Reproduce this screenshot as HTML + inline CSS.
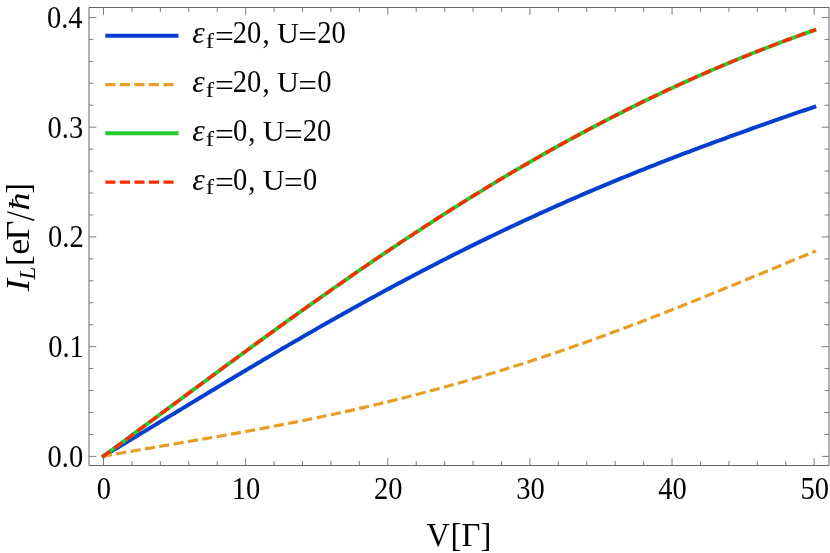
<!DOCTYPE html>
<html><head><meta charset="utf-8"><title>plot</title>
<style>
html,body{margin:0;padding:0;background:#fff;}
svg{display:block;will-change:transform;font-family:"Liberation Serif",serif;font-kerning:none;}
</style></head><body>
<svg width="830" height="553" viewBox="0 0 830 553">
<rect width="830" height="553" fill="#fff"/>
<g fill="none" stroke-linecap="butt" stroke-linejoin="round">
<path d="M101.96,457.03 L103.50,456.10 L107.07,453.96 L110.65,451.81 L114.22,449.66 L117.79,447.51 L121.36,445.36 L124.94,443.20 L128.51,441.05 L132.08,438.89 L135.66,436.73 L139.23,434.57 L142.80,432.41 L146.37,430.24 L149.95,428.08 L153.52,425.91 L157.09,423.75 L160.67,421.58 L164.24,419.42 L167.81,417.25 L171.38,415.09 L174.96,412.92 L178.53,410.76 L182.10,408.59 L185.68,406.43 L189.25,404.27 L192.82,402.11 L196.39,399.95 L199.97,397.79 L203.54,395.63 L207.11,393.48 L210.69,391.32 L214.26,389.17 L217.83,387.02 L221.40,384.87 L224.98,382.73 L228.55,380.58 L232.12,378.44 L235.70,376.31 L239.27,374.17 L242.84,372.04 L246.41,369.91 L249.99,367.78 L253.56,365.66 L257.13,363.54 L260.71,361.42 L264.28,359.31 L267.85,357.20 L271.42,355.10 L275.00,353.00 L278.57,350.90 L282.14,348.81 L285.72,346.72 L289.29,344.63 L292.86,342.55 L296.43,340.48 L300.01,338.41 L303.58,336.34 L307.15,334.28 L310.73,332.22 L314.30,330.17 L317.87,328.12 L321.44,326.08 L325.02,324.05 L328.59,322.02 L332.16,319.99 L335.74,317.97 L339.31,315.96 L342.88,313.95 L346.45,311.95 L350.03,309.95 L353.60,307.96 L357.17,305.97 L360.75,303.99 L364.32,302.02 L367.89,300.05 L371.46,298.09 L375.04,296.13 L378.61,294.19 L382.18,292.24 L385.76,290.31 L389.33,288.38 L392.90,286.46 L396.47,284.54 L400.05,282.63 L403.62,280.73 L407.19,278.83 L410.77,276.94 L414.34,275.06 L417.91,273.18 L421.48,271.31 L425.06,269.45 L428.63,267.60 L432.20,265.75 L435.78,263.91 L439.35,262.08 L442.92,260.25 L446.49,258.43 L450.07,256.62 L453.64,254.81 L457.21,253.01 L460.79,251.22 L464.36,249.44 L467.93,247.66 L471.51,245.89 L475.08,244.13 L478.65,242.38 L482.22,240.63 L485.80,238.89 L489.37,237.16 L492.94,235.44 L496.52,233.72 L500.09,232.01 L503.66,230.31 L507.23,228.61 L510.81,226.92 L514.38,225.24 L517.95,223.57 L521.53,221.90 L525.10,220.25 L528.67,218.59 L532.24,216.95 L535.82,215.32 L539.39,213.69 L542.96,212.06 L546.54,210.45 L550.11,208.84 L553.68,207.24 L557.25,205.65 L560.83,204.07 L564.40,202.49 L567.97,200.92 L571.55,199.35 L575.12,197.80 L578.69,196.25 L582.26,194.71 L585.84,193.17 L589.41,191.64 L592.98,190.12 L596.56,188.61 L600.13,187.10 L603.70,185.60 L607.27,184.11 L610.85,182.62 L614.42,181.14 L617.99,179.67 L621.57,178.20 L625.14,176.74 L628.71,175.28 L632.28,173.84 L635.86,172.40 L639.43,170.96 L643.00,169.53 L646.58,168.11 L650.15,166.69 L653.72,165.28 L657.29,163.88 L660.87,162.48 L664.44,161.09 L668.01,159.70 L671.59,158.32 L675.16,156.95 L678.73,155.58 L682.30,154.22 L685.88,152.86 L689.45,151.51 L693.02,150.16 L696.60,148.82 L700.17,147.48 L703.74,146.15 L707.31,144.82 L710.89,143.50 L714.46,142.18 L718.03,140.87 L721.61,139.56 L725.18,138.26 L728.75,136.96 L732.32,135.66 L735.90,134.37 L739.47,133.08 L743.04,131.80 L746.62,130.52 L750.19,129.25 L753.76,127.98 L757.33,126.71 L760.91,125.44 L764.48,124.18 L768.05,122.93 L771.63,121.67 L775.20,120.42 L778.77,119.17 L782.34,117.92 L785.92,116.68 L789.49,115.44 L793.06,114.20 L796.64,112.96 L800.21,111.73 L803.78,110.50 L807.35,109.27 L810.93,108.04 L814.50,106.81 L816.20,106.23" stroke="#063fd0" stroke-width="4.0"/>
<path d="M101.92,456.38 L103.50,456.10 L107.07,455.47 L110.65,454.84 L114.22,454.22 L117.79,453.60 L121.36,452.98 L124.94,452.36 L128.51,451.74 L132.08,451.13 L135.66,450.52 L139.23,449.91 L142.80,449.30 L146.37,448.69 L149.95,448.08 L153.52,447.48 L157.09,446.87 L160.67,446.26 L164.24,445.66 L167.81,445.05 L171.38,444.45 L174.96,443.84 L178.53,443.23 L182.10,442.62 L185.68,442.01 L189.25,441.40 L192.82,440.79 L196.39,440.18 L199.97,439.57 L203.54,438.95 L207.11,438.33 L210.69,437.71 L214.26,437.09 L217.83,436.47 L221.40,435.84 L224.98,435.21 L228.55,434.58 L232.12,433.94 L235.70,433.31 L239.27,432.66 L242.84,432.02 L246.41,431.37 L249.99,430.72 L253.56,430.06 L257.13,429.41 L260.71,428.74 L264.28,428.08 L267.85,427.40 L271.42,426.73 L275.00,426.05 L278.57,425.37 L282.14,424.68 L285.72,423.98 L289.29,423.28 L292.86,422.58 L296.43,421.87 L300.01,421.16 L303.58,420.44 L307.15,419.72 L310.73,418.99 L314.30,418.25 L317.87,417.51 L321.44,416.76 L325.02,416.01 L328.59,415.25 L332.16,414.49 L335.74,413.72 L339.31,412.94 L342.88,412.16 L346.45,411.37 L350.03,410.57 L353.60,409.77 L357.17,408.96 L360.75,408.15 L364.32,407.33 L367.89,406.50 L371.46,405.67 L375.04,404.82 L378.61,403.98 L382.18,403.12 L385.76,402.26 L389.33,401.39 L392.90,400.51 L396.47,399.63 L400.05,398.74 L403.62,397.84 L407.19,396.94 L410.77,396.02 L414.34,395.10 L417.91,394.18 L421.48,393.24 L425.06,392.30 L428.63,391.35 L432.20,390.40 L435.78,389.43 L439.35,388.46 L442.92,387.48 L446.49,386.50 L450.07,385.50 L453.64,384.50 L457.21,383.49 L460.79,382.47 L464.36,381.45 L467.93,380.42 L471.51,379.38 L475.08,378.33 L478.65,377.28 L482.22,376.22 L485.80,375.15 L489.37,374.07 L492.94,372.98 L496.52,371.89 L500.09,370.79 L503.66,369.68 L507.23,368.57 L510.81,367.45 L514.38,366.32 L517.95,365.18 L521.53,364.03 L525.10,362.88 L528.67,361.72 L532.24,360.55 L535.82,359.38 L539.39,358.20 L542.96,357.01 L546.54,355.81 L550.11,354.61 L553.68,353.40 L557.25,352.18 L560.83,350.96 L564.40,349.73 L567.97,348.49 L571.55,347.25 L575.12,345.99 L578.69,344.74 L582.26,343.47 L585.84,342.20 L589.41,340.92 L592.98,339.64 L596.56,338.35 L600.13,337.05 L603.70,335.75 L607.27,334.44 L610.85,333.12 L614.42,331.80 L617.99,330.47 L621.57,329.14 L625.14,327.80 L628.71,326.45 L632.28,325.10 L635.86,323.74 L639.43,322.38 L643.00,321.01 L646.58,319.64 L650.15,318.27 L653.72,316.88 L657.29,315.50 L660.87,314.10 L664.44,312.71 L668.01,311.30 L671.59,309.90 L675.16,308.49 L678.73,307.07 L682.30,305.65 L685.88,304.23 L689.45,302.80 L693.02,301.37 L696.60,299.94 L700.17,298.50 L703.74,297.06 L707.31,295.62 L710.89,294.17 L714.46,292.72 L718.03,291.26 L721.61,289.81 L725.18,288.35 L728.75,286.89 L732.32,285.42 L735.90,283.96 L739.47,282.49 L743.04,281.02 L746.62,279.55 L750.19,278.08 L753.76,276.60 L757.33,275.13 L760.91,273.65 L764.48,272.17 L768.05,270.70 L771.63,269.22 L775.20,267.74 L778.77,266.26 L782.34,264.78 L785.92,263.30 L789.49,261.82 L793.06,260.34 L796.64,258.87 L800.21,257.39 L803.78,255.91 L807.35,254.44 L810.93,252.97 L814.50,251.49 L815.98,250.89" stroke="#e69e26" stroke-width="3.2" stroke-dasharray="10.14 4.403"/>
<path d="M102.05,457.16 L103.50,456.10 L107.07,453.48 L110.65,450.86 L114.22,448.23 L117.79,445.60 L121.36,442.97 L124.94,440.34 L128.51,437.71 L132.08,435.07 L135.66,432.43 L139.23,429.79 L142.80,427.15 L146.37,424.51 L149.95,421.87 L153.52,419.23 L157.09,416.59 L160.67,413.94 L164.24,411.30 L167.81,408.65 L171.38,406.01 L174.96,403.37 L178.53,400.72 L182.10,398.08 L185.68,395.44 L189.25,392.80 L192.82,390.16 L196.39,387.52 L199.97,384.88 L203.54,382.24 L207.11,379.60 L210.69,376.97 L214.26,374.34 L217.83,371.71 L221.40,369.08 L224.98,366.45 L228.55,363.83 L232.12,361.21 L235.70,358.59 L239.27,355.97 L242.84,353.36 L246.41,350.75 L249.99,348.14 L253.56,345.53 L257.13,342.93 L260.71,340.33 L264.28,337.74 L267.85,335.15 L271.42,332.56 L275.00,329.98 L278.57,327.40 L282.14,324.82 L285.72,322.25 L289.29,319.69 L292.86,317.13 L296.43,314.57 L300.01,312.02 L303.58,309.47 L307.15,306.93 L310.73,304.39 L314.30,301.86 L317.87,299.33 L321.44,296.81 L325.02,294.29 L328.59,291.78 L332.16,289.27 L335.74,286.77 L339.31,284.28 L342.88,281.79 L346.45,279.31 L350.03,276.84 L353.60,274.37 L357.17,271.90 L360.75,269.45 L364.32,267.00 L367.89,264.55 L371.46,262.12 L375.04,259.69 L378.61,257.26 L382.18,254.85 L385.76,252.44 L389.33,250.04 L392.90,247.64 L396.47,245.26 L400.05,242.88 L403.62,240.50 L407.19,238.14 L410.77,235.78 L414.34,233.43 L417.91,231.09 L421.48,228.76 L425.06,226.43 L428.63,224.11 L432.20,221.80 L435.78,219.50 L439.35,217.21 L442.92,214.92 L446.49,212.64 L450.07,210.38 L453.64,208.12 L457.21,205.86 L460.79,203.62 L464.36,201.39 L467.93,199.16 L471.51,196.94 L475.08,194.74 L478.65,192.54 L482.22,190.35 L485.80,188.17 L489.37,185.99 L492.94,183.83 L496.52,181.68 L500.09,179.53 L503.66,177.40 L507.23,175.27 L510.81,173.16 L514.38,171.05 L517.95,168.95 L521.53,166.86 L525.10,164.78 L528.67,162.72 L532.24,160.66 L535.82,158.61 L539.39,156.57 L542.96,154.54 L546.54,152.52 L550.11,150.51 L553.68,148.51 L557.25,146.51 L560.83,144.53 L564.40,142.56 L567.97,140.60 L571.55,138.65 L575.12,136.71 L578.69,134.78 L582.26,132.86 L585.84,130.95 L589.41,129.05 L592.98,127.16 L596.56,125.28 L600.13,123.41 L603.70,121.55 L607.27,119.70 L610.85,117.86 L614.42,116.03 L617.99,114.21 L621.57,112.41 L625.14,110.61 L628.71,108.82 L632.28,107.04 L635.86,105.28 L639.43,103.52 L643.00,101.77 L646.58,100.04 L650.15,98.31 L653.72,96.60 L657.29,94.90 L660.87,93.20 L664.44,91.52 L668.01,89.85 L671.59,88.18 L675.16,86.53 L678.73,84.89 L682.30,83.26 L685.88,81.64 L689.45,80.03 L693.02,78.43 L696.60,76.84 L700.17,75.26 L703.74,73.69 L707.31,72.13 L710.89,70.58 L714.46,69.04 L718.03,67.52 L721.61,66.00 L725.18,64.49 L728.75,62.99 L732.32,61.51 L735.90,60.03 L739.47,58.57 L743.04,57.11 L746.62,55.66 L750.19,54.23 L753.76,52.80 L757.33,51.39 L760.91,49.98 L764.48,48.59 L768.05,47.20 L771.63,45.83 L775.20,44.46 L778.77,43.11 L782.34,41.76 L785.92,40.42 L789.49,39.10 L793.06,37.78 L796.64,36.47 L800.21,35.18 L803.78,33.89 L807.35,32.61 L810.93,31.34 L814.50,30.09 L816.20,29.49" stroke="#26cd2e" stroke-width="3.9"/>
<path d="M102.21,457.05 L103.50,456.10 L107.07,453.48 L110.65,450.86 L114.22,448.23 L117.79,445.60 L121.36,442.97 L124.94,440.34 L128.51,437.71 L132.08,435.07 L135.66,432.43 L139.23,429.79 L142.80,427.15 L146.37,424.51 L149.95,421.87 L153.52,419.23 L157.09,416.59 L160.67,413.94 L164.24,411.30 L167.81,408.65 L171.38,406.01 L174.96,403.37 L178.53,400.72 L182.10,398.08 L185.68,395.44 L189.25,392.80 L192.82,390.16 L196.39,387.52 L199.97,384.88 L203.54,382.24 L207.11,379.60 L210.69,376.97 L214.26,374.34 L217.83,371.71 L221.40,369.08 L224.98,366.45 L228.55,363.83 L232.12,361.21 L235.70,358.59 L239.27,355.97 L242.84,353.36 L246.41,350.75 L249.99,348.14 L253.56,345.53 L257.13,342.93 L260.71,340.33 L264.28,337.74 L267.85,335.15 L271.42,332.56 L275.00,329.98 L278.57,327.40 L282.14,324.82 L285.72,322.25 L289.29,319.69 L292.86,317.13 L296.43,314.57 L300.01,312.02 L303.58,309.47 L307.15,306.93 L310.73,304.39 L314.30,301.86 L317.87,299.33 L321.44,296.81 L325.02,294.29 L328.59,291.78 L332.16,289.27 L335.74,286.77 L339.31,284.28 L342.88,281.79 L346.45,279.31 L350.03,276.84 L353.60,274.37 L357.17,271.90 L360.75,269.45 L364.32,267.00 L367.89,264.55 L371.46,262.12 L375.04,259.69 L378.61,257.26 L382.18,254.85 L385.76,252.44 L389.33,250.04 L392.90,247.64 L396.47,245.26 L400.05,242.88 L403.62,240.50 L407.19,238.14 L410.77,235.78 L414.34,233.43 L417.91,231.09 L421.48,228.76 L425.06,226.43 L428.63,224.11 L432.20,221.80 L435.78,219.50 L439.35,217.21 L442.92,214.92 L446.49,212.64 L450.07,210.38 L453.64,208.12 L457.21,205.86 L460.79,203.62 L464.36,201.39 L467.93,199.16 L471.51,196.94 L475.08,194.74 L478.65,192.54 L482.22,190.35 L485.80,188.17 L489.37,185.99 L492.94,183.83 L496.52,181.68 L500.09,179.53 L503.66,177.40 L507.23,175.27 L510.81,173.16 L514.38,171.05 L517.95,168.95 L521.53,166.86 L525.10,164.78 L528.67,162.72 L532.24,160.66 L535.82,158.61 L539.39,156.57 L542.96,154.54 L546.54,152.52 L550.11,150.51 L553.68,148.51 L557.25,146.51 L560.83,144.53 L564.40,142.56 L567.97,140.60 L571.55,138.65 L575.12,136.71 L578.69,134.78 L582.26,132.86 L585.84,130.95 L589.41,129.05 L592.98,127.16 L596.56,125.28 L600.13,123.41 L603.70,121.55 L607.27,119.70 L610.85,117.86 L614.42,116.03 L617.99,114.21 L621.57,112.41 L625.14,110.61 L628.71,108.82 L632.28,107.04 L635.86,105.28 L639.43,103.52 L643.00,101.77 L646.58,100.04 L650.15,98.31 L653.72,96.60 L657.29,94.90 L660.87,93.20 L664.44,91.52 L668.01,89.85 L671.59,88.18 L675.16,86.53 L678.73,84.89 L682.30,83.26 L685.88,81.64 L689.45,80.03 L693.02,78.43 L696.60,76.84 L700.17,75.26 L703.74,73.69 L707.31,72.13 L710.89,70.58 L714.46,69.04 L718.03,67.52 L721.61,66.00 L725.18,64.49 L728.75,62.99 L732.32,61.51 L735.90,60.03 L739.47,58.57 L743.04,57.11 L746.62,55.66 L750.19,54.23 L753.76,52.80 L757.33,51.39 L760.91,49.98 L764.48,48.59 L768.05,47.20 L771.63,45.83 L775.20,44.46 L778.77,43.11 L782.34,41.76 L785.92,40.42 L789.49,39.10 L793.06,37.78 L796.64,36.47 L800.21,35.18 L803.78,33.89 L807.35,32.61 L810.93,31.34 L814.50,30.09 L816.01,29.55" stroke="#fb2c04" stroke-width="3.3" stroke-dasharray="10.14 4.403"/>
</g>
<path d="M89.0,7.5H829.0V465.5H89.0Z" fill="none" stroke="#666" stroke-width="1"/>
<g stroke="#666" stroke-width="0.85" fill="none"><path d="M103.50,465.5v-7.3M103.50,7.5v7.3"/><path d="M131.93,465.5v-4.4M131.93,7.5v4.4"/><path d="M160.36,465.5v-4.4M160.36,7.5v4.4"/><path d="M188.78,465.5v-4.4M188.78,7.5v4.4"/><path d="M217.21,465.5v-4.4M217.21,7.5v4.4"/><path d="M245.64,465.5v-7.3M245.64,7.5v7.3"/><path d="M274.07,465.5v-4.4M274.07,7.5v4.4"/><path d="M302.50,465.5v-4.4M302.50,7.5v4.4"/><path d="M330.92,465.5v-4.4M330.92,7.5v4.4"/><path d="M359.35,465.5v-4.4M359.35,7.5v4.4"/><path d="M387.78,465.5v-7.3M387.78,7.5v7.3"/><path d="M416.21,465.5v-4.4M416.21,7.5v4.4"/><path d="M444.64,465.5v-4.4M444.64,7.5v4.4"/><path d="M473.06,465.5v-4.4M473.06,7.5v4.4"/><path d="M501.49,465.5v-4.4M501.49,7.5v4.4"/><path d="M529.92,465.5v-7.3M529.92,7.5v7.3"/><path d="M558.35,465.5v-4.4M558.35,7.5v4.4"/><path d="M586.78,465.5v-4.4M586.78,7.5v4.4"/><path d="M615.20,465.5v-4.4M615.20,7.5v4.4"/><path d="M643.63,465.5v-4.4M643.63,7.5v4.4"/><path d="M672.06,465.5v-7.3M672.06,7.5v7.3"/><path d="M700.49,465.5v-4.4M700.49,7.5v4.4"/><path d="M728.92,465.5v-4.4M728.92,7.5v4.4"/><path d="M757.34,465.5v-4.4M757.34,7.5v4.4"/><path d="M785.77,465.5v-4.4M785.77,7.5v4.4"/><path d="M814.20,465.5v-7.3M814.20,7.5v7.3"/><path d="M89.0,456.40h7.3M829.0,456.40h-7.3"/><path d="M89.0,434.45h4.4M829.0,434.45h-4.4"/><path d="M89.0,412.50h4.4M829.0,412.50h-4.4"/><path d="M89.0,390.56h4.4M829.0,390.56h-4.4"/><path d="M89.0,368.61h4.4M829.0,368.61h-4.4"/><path d="M89.0,346.66h7.3M829.0,346.66h-7.3"/><path d="M89.0,324.71h4.4M829.0,324.71h-4.4"/><path d="M89.0,302.76h4.4M829.0,302.76h-4.4"/><path d="M89.0,280.82h4.4M829.0,280.82h-4.4"/><path d="M89.0,258.87h4.4M829.0,258.87h-4.4"/><path d="M89.0,236.92h7.3M829.0,236.92h-7.3"/><path d="M89.0,214.97h4.4M829.0,214.97h-4.4"/><path d="M89.0,193.02h4.4M829.0,193.02h-4.4"/><path d="M89.0,171.08h4.4M829.0,171.08h-4.4"/><path d="M89.0,149.13h4.4M829.0,149.13h-4.4"/><path d="M89.0,127.18h7.3M829.0,127.18h-7.3"/><path d="M89.0,105.23h4.4M829.0,105.23h-4.4"/><path d="M89.0,83.28h4.4M829.0,83.28h-4.4"/><path d="M89.0,61.34h4.4M829.0,61.34h-4.4"/><path d="M89.0,39.39h4.4M829.0,39.39h-4.4"/><path d="M89.0,17.44h7.3M829.0,17.44h-7.3"/></g>
<g><text transform="translate(96.67,499.2) scale(0.92,1)" font-size="31.0">0</text><text transform="translate(231.74,499.2) scale(0.92,1)" font-size="31.0">10</text><text transform="translate(373.94,499.2) scale(0.92,1)" font-size="31.0">20</text><text transform="translate(516.14,499.2) scale(0.92,1)" font-size="31.0">30</text><text transform="translate(658.34,499.2) scale(0.92,1)" font-size="31.0">40</text><text transform="translate(800.54,499.2) scale(0.92,1)" font-size="31.0">50</text><text transform="translate(47.54,466.70) scale(0.9200,1.0000)" font-size="31.0" fill="#000">0.0</text><text transform="translate(48.16,357.01) scale(0.9200,1.0000)" font-size="31.0" fill="#000">0.1</text><text transform="translate(48.02,247.32) scale(0.9200,1.0000)" font-size="31.0" fill="#000">0.2</text><text transform="translate(47.56,137.63) scale(0.9200,1.0000)" font-size="31.0" fill="#000">0.3</text><text transform="translate(46.90,27.94) scale(0.9200,1.0000)" font-size="31.0" fill="#000">0.4</text></g>
<g><path d="M105.3,35.7H178.5" stroke="#063fd0" stroke-width="4.0" fill="none"/><text transform="translate(192.22,43.10) scale(1.0244,1.0000)" font-size="31.0" font-style="italic" fill="#000">ε</text><text transform="translate(205.74,47.90) scale(1.1500,1.0000)" font-size="21.5" fill="#000">f</text><text transform="translate(214.93,46.90) scale(1.0814,1.0000)" font-size="31.0" fill="#000">=</text><text transform="translate(232.80,43.10) scale(0.9200,1.0000)" font-size="31.0" fill="#000">20</text><text transform="translate(262.61,43.10) scale(0.9200,1.0000)" font-size="31.0" fill="#000">,</text><text transform="translate(276.96,43.10) scale(1.0516,1.0000)" font-size="28.8" fill="#000">U</text><text transform="translate(298.25,46.90) scale(1.0676,1.0000)" font-size="31.0" fill="#000">=</text><text transform="translate(317.15,43.10) scale(0.9200,1.0000)" font-size="31.0" fill="#000">20</text><path d="M105.3,84.55H178.0" stroke="#e69e26" stroke-width="3.2" fill="none" stroke-dasharray="10.14 4.403"/><text transform="translate(192.22,91.95) scale(1.0244,1.0000)" font-size="31.0" font-style="italic" fill="#000">ε</text><text transform="translate(205.74,96.75) scale(1.1500,1.0000)" font-size="21.5" fill="#000">f</text><text transform="translate(214.93,95.75) scale(1.0814,1.0000)" font-size="31.0" fill="#000">=</text><text transform="translate(232.80,91.95) scale(0.9200,1.0000)" font-size="31.0" fill="#000">20</text><text transform="translate(262.61,91.95) scale(0.9200,1.0000)" font-size="31.0" fill="#000">,</text><text transform="translate(276.96,91.95) scale(1.0516,1.0000)" font-size="28.8" fill="#000">U</text><text transform="translate(298.25,95.75) scale(1.0676,1.0000)" font-size="31.0" fill="#000">=</text><text transform="translate(317.31,91.95) scale(0.9200,1.0000)" font-size="31.0" fill="#000">0</text><path d="M105.3,133.3H178.5" stroke="#26cd2e" stroke-width="4.0" fill="none"/><text transform="translate(192.22,140.70) scale(1.0244,1.0000)" font-size="31.0" font-style="italic" fill="#000">ε</text><text transform="translate(205.74,145.50) scale(1.1500,1.0000)" font-size="21.5" fill="#000">f</text><text transform="translate(214.93,144.50) scale(1.0814,1.0000)" font-size="31.0" fill="#000">=</text><text transform="translate(232.96,140.70) scale(0.9200,1.0000)" font-size="31.0" fill="#000">0</text><text transform="translate(248.31,140.70) scale(0.9200,1.0000)" font-size="31.0" fill="#000">,</text><text transform="translate(262.66,140.70) scale(1.0516,1.0000)" font-size="28.8" fill="#000">U</text><text transform="translate(283.95,144.50) scale(1.0676,1.0000)" font-size="31.0" fill="#000">=</text><text transform="translate(302.85,140.70) scale(0.9200,1.0000)" font-size="31.0" fill="#000">20</text><path d="M105.3,182.1H178.0" stroke="#fb2c04" stroke-width="3.2" fill="none" stroke-dasharray="10.14 4.403"/><text transform="translate(192.22,189.50) scale(1.0244,1.0000)" font-size="31.0" font-style="italic" fill="#000">ε</text><text transform="translate(205.74,194.30) scale(1.1500,1.0000)" font-size="21.5" fill="#000">f</text><text transform="translate(214.93,193.30) scale(1.0814,1.0000)" font-size="31.0" fill="#000">=</text><text transform="translate(232.96,189.50) scale(0.9200,1.0000)" font-size="31.0" fill="#000">0</text><text transform="translate(248.31,189.50) scale(0.9200,1.0000)" font-size="31.0" fill="#000">,</text><text transform="translate(262.66,189.50) scale(1.0516,1.0000)" font-size="28.8" fill="#000">U</text><text transform="translate(283.95,193.30) scale(1.0676,1.0000)" font-size="31.0" fill="#000">=</text><text transform="translate(303.01,189.50) scale(0.9200,1.0000)" font-size="31.0" fill="#000">0</text></g>
<text transform="translate(426.54,545.70) scale(0.9744,1.0000)" font-size="33" fill="#000">V</text><text transform="translate(450.57,545.70) scale(0.9929,1.0000)" font-size="33" fill="#000">[Γ]</text>
<g transform="translate(29.3,291.9) rotate(-90)"><text transform="translate(0.74,0) scale(1.1123,1)" font-size="33" font-style="italic">I</text><text transform="translate(12.08,5.2) scale(0.9926,1)" font-size="24" font-style="italic">L</text><text transform="translate(26.27,0) scale(0.9527,1)" font-size="33">[</text><text transform="translate(37.19,0) scale(1.0971,1)" font-size="33">e</text><text transform="translate(51.63,0) scale(1.0256,1)" font-size="33">Γ</text><path d="M71.7,5.0L80.0,-22.0" stroke="#000" stroke-width="1.5" fill="none"/><text transform="translate(81.30,0) scale(1.1996,1)" font-size="30" font-style="italic">ħ</text><text transform="translate(98.25,0) scale(0.9663,1)" font-size="33">]</text></g>
</svg>
</body></html>
